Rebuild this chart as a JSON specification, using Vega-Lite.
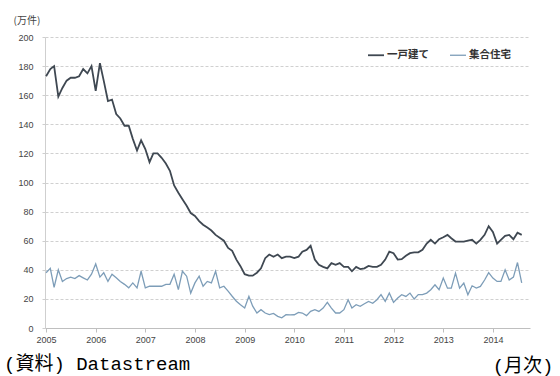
{
  "$schema": "https://vega.github.io/schema/vega-lite/v6.json",
  "width": 485,
  "height": 291,
  "autosize": {"type": "none"},
  "padding": {"left": 45, "top": 37, "right": 30, "bottom": 48},
  "background": "white",
  "title": {"text": "(資料) Datastream", "orient": "bottom", "anchor": "start", "frame": "group", "dx": -41, "dy": -20, "offset": 0, "fontSize": 19, "font": "Liberation Mono, Noto Sans CJK JP", "fontWeight": "normal", "color": "#000"},
  "data": {"values": [
    {"d":"2005-01-01","一戸建て":173,"集合住宅":38},{"d":"2005-02-01","一戸建て":178,"集合住宅":41},{"d":"2005-03-01","一戸建て":180,"集合住宅":28},{"d":"2005-04-01","一戸建て":159,"集合住宅":40},{"d":"2005-05-01","一戸建て":165,"集合住宅":32},{"d":"2005-06-01","一戸建て":170,"集合住宅":34},{"d":"2005-07-01","一戸建て":172,"集合住宅":35},{"d":"2005-08-01","一戸建て":172,"集合住宅":34},{"d":"2005-09-01","一戸建て":173,"集合住宅":36},{"d":"2005-10-01","一戸建て":178,"集合住宅":34.5},{"d":"2005-11-01","一戸建て":175,"集合住宅":33},{"d":"2005-12-01","一戸建て":180,"集合住宅":37},
    {"d":"2006-01-01","一戸建て":163,"集合住宅":44},{"d":"2006-02-01","一戸建て":182,"集合住宅":35},{"d":"2006-03-01","一戸建て":170,"集合住宅":38},{"d":"2006-04-01","一戸建て":156,"集合住宅":32},{"d":"2006-05-01","一戸建て":157,"集合住宅":37},{"d":"2006-06-01","一戸建て":147,"集合住宅":34.5},{"d":"2006-07-01","一戸建て":144,"集合住宅":32},{"d":"2006-08-01","一戸建て":139,"集合住宅":30},{"d":"2006-09-01","一戸建て":139,"集合住宅":27.6},{"d":"2006-10-01","一戸建て":130,"集合住宅":31},{"d":"2006-11-01","一戸建て":122,"集合住宅":27.6},{"d":"2006-12-01","一戸建て":129,"集合住宅":39},
    {"d":"2007-01-01","一戸建て":123,"集合住宅":27.6},{"d":"2007-02-01","一戸建て":114,"集合住宅":28.7},{"d":"2007-03-01","一戸建て":120,"集合住宅":28.7},{"d":"2007-04-01","一戸建て":120,"集合住宅":28.7},{"d":"2007-05-01","一戸建て":117,"集合住宅":28.7},{"d":"2007-06-01","一戸建て":113,"集合住宅":30},{"d":"2007-07-01","一戸建て":108,"集合住宅":30},{"d":"2007-08-01","一戸建て":98,"集合住宅":37},{"d":"2007-09-01","一戸建て":93,"集合住宅":26.4},{"d":"2007-10-01","一戸建て":88.5,"集合住宅":39},{"d":"2007-11-01","一戸建て":84,"集合住宅":35.6},{"d":"2007-12-01","一戸建て":79,"集合住宅":24},
    {"d":"2008-01-01","一戸建て":77,"集合住宅":31},{"d":"2008-02-01","一戸建て":73.5,"集合住宅":35.6},{"d":"2008-03-01","一戸建て":71,"集合住宅":28.7},{"d":"2008-04-01","一戸建て":69,"集合住宅":32},{"d":"2008-05-01","一戸建て":67,"集合住宅":31},{"d":"2008-06-01","一戸建て":64,"集合住宅":39},{"d":"2008-07-01","一戸建て":62,"集合住宅":27.6},{"d":"2008-08-01","一戸建て":60,"集合住宅":28.7},{"d":"2008-09-01","一戸建て":55,"集合住宅":25.3},{"d":"2008-10-01","一戸建て":53,"集合住宅":21.8},{"d":"2008-11-01","一戸建て":47,"集合住宅":18.4},{"d":"2008-12-01","一戸建て":42.5,"集合住宅":16},
    {"d":"2009-01-01","一戸建て":37,"集合住宅":13.8},{"d":"2009-02-01","一戸建て":36,"集合住宅":21.8},{"d":"2009-03-01","一戸建て":36,"集合住宅":15},{"d":"2009-04-01","一戸建て":38,"集合住宅":10.3},{"d":"2009-05-01","一戸建て":41,"集合住宅":12.6},{"d":"2009-06-01","一戸建て":48,"集合住宅":10.3},{"d":"2009-07-01","一戸建て":50.5,"集合住宅":9.2},{"d":"2009-08-01","一戸建て":49,"集合住宅":10},{"d":"2009-09-01","一戸建て":50.5,"集合住宅":8},{"d":"2009-10-01","一戸建て":48,"集合住宅":7},{"d":"2009-11-01","一戸建て":49,"集合住宅":9.2},{"d":"2009-12-01","一戸建て":49,"集合住宅":9},
    {"d":"2010-01-01","一戸建て":48,"集合住宅":9.1},{"d":"2010-02-01","一戸建て":49,"集合住宅":10.7},{"d":"2010-03-01","一戸建て":52.5,"集合住宅":10.3},{"d":"2010-04-01","一戸建て":53.7,"集合住宅":8.5},{"d":"2010-05-01","一戸建て":56.5,"集合住宅":11.4},{"d":"2010-06-01","一戸建て":47,"集合住宅":12.6},{"d":"2010-07-01","一戸建て":43.4,"集合住宅":11.4},{"d":"2010-08-01","一戸建て":42,"集合住宅":13.7},{"d":"2010-09-01","一戸建て":41,"集合住宅":17.6},{"d":"2010-10-01","一戸建て":44.6,"集合住宅":13.7},{"d":"2010-11-01","一戸建て":43.4,"集合住宅":10.3},{"d":"2010-12-01","一戸建て":44.6,"集合住宅":10.3},
    {"d":"2011-01-01","一戸建て":42,"集合住宅":12.6},{"d":"2011-02-01","一戸建て":42,"集合住宅":19.4},{"d":"2011-03-01","一戸建て":39,"集合住宅":13.7},{"d":"2011-04-01","一戸建て":42,"集合住宅":16},{"d":"2011-05-01","一戸建て":40.5,"集合住宅":14.9},{"d":"2011-06-01","一戸建て":41,"集合住宅":16.7},{"d":"2011-07-01","一戸建て":42.7,"集合住宅":18.3},{"d":"2011-08-01","一戸建て":42,"集合住宅":17},{"d":"2011-09-01","一戸建て":42,"集合住宅":19.4},{"d":"2011-10-01","一戸建て":43.4,"集合住宅":22.9},{"d":"2011-11-01","一戸建て":47,"集合住宅":18.3},{"d":"2011-12-01","一戸建て":52.5,"集合住宅":24},
    {"d":"2012-01-01","一戸建て":51.4,"集合住宅":17.6},{"d":"2012-02-01","一戸建て":47,"集合住宅":20.6},{"d":"2012-03-01","一戸建て":47.3,"集合住宅":22.9},{"d":"2012-04-01","一戸建て":49.6,"集合住宅":21.7},{"d":"2012-05-01","一戸建て":51.4,"集合住宅":24},{"d":"2012-06-01","一戸建て":52,"集合住宅":19.9},{"d":"2012-07-01","一戸建て":52,"集合住宅":22.9},{"d":"2012-08-01","一戸建て":53.7,"集合住宅":22.9},{"d":"2012-09-01","一戸建て":58,"集合住宅":24},{"d":"2012-10-01","一戸建て":60.6,"集合住宅":26.3},{"d":"2012-11-01","一戸建て":58,"集合住宅":29.7},{"d":"2012-12-01","一戸建て":61,"集合住宅":26.3},
    {"d":"2013-01-01","一戸建て":62.4,"集合住宅":34.3},{"d":"2013-02-01","一戸建て":64,"集合住宅":27.4},{"d":"2013-03-01","一戸建て":61.7,"集合住宅":27.4},{"d":"2013-04-01","一戸建て":59.4,"集合住宅":37.7},{"d":"2013-05-01","一戸建て":59.4,"集合住宅":27.4},{"d":"2013-06-01","一戸建て":59.4,"集合住宅":30.9},{"d":"2013-07-01","一戸建て":60,"集合住宅":22.9},{"d":"2013-08-01","一戸建て":60.6,"集合住宅":29},{"d":"2013-09-01","一戸建て":58,"集合住宅":27.4},{"d":"2013-10-01","一戸建て":60.6,"集合住宅":28.6},{"d":"2013-11-01","一戸建て":64,"集合住宅":33},{"d":"2013-12-01","一戸建て":70,"集合住宅":38},
    {"d":"2014-01-01","一戸建て":66,"集合住宅":34.3},{"d":"2014-02-01","一戸建て":58,"集合住宅":32},{"d":"2014-03-01","一戸建て":60.6,"集合住宅":32},{"d":"2014-04-01","一戸建て":63.3,"集合住宅":40},{"d":"2014-05-01","一戸建て":64,"集合住宅":33},{"d":"2014-06-01","一戸建て":61,"集合住宅":35},{"d":"2014-07-01","一戸建て":65.5,"集合住宅":45},{"d":"2014-08-01","一戸建て":64,"集合住宅":31}
  ]},
  "transform": [{"fold": ["一戸建て", "集合住宅"], "as": ["series", "value"]}],
  "mark": {"type": "line", "interpolate": "linear"},
  "encoding": {
    "x": {
      "field": "d", "type": "temporal",
      "scale": {"type": "utc", "domain": [{"year": 2004, "month": 12, "date": 24, "utc": true}, {"year": 2014, "month": 10, "date": 1, "utc": true}]},
      "axis": {
        "title": "(月次)", "format": "%Y", "tickCount": {"interval": "year", "step": 1},
        "grid": false, "domainColor": "#bfbfbf", "tickColor": "#bfbfbf", "tickSize": 4,
        "labelFontSize": 9, "labelColor": "#444", "labelFont": "Liberation Sans", "labelPadding": 3, "labelFlush": false,
        "titleFont": "Liberation Mono, Noto Sans CJK JP", "titleFontSize": 19, "titleFontWeight": "normal", "titleColor": "#000",
        "titleAlign": "right", "titleAnchor": "end", "titleX": 508, "titleY": 37, "titleBaseline": "middle"
      }
    },
    "y": {
      "field": "value", "type": "quantitative",
      "scale": {"domain": [0, 200], "nice": false},
      "axis": {
        "title": "(万件)", "titleAngle": 0, "titleAlign": "left", "titleX": -32, "titleY": -17, "titleBaseline": "middle",
        "titleFontSize": 10, "titleFontWeight": "normal", "titleFont": "Noto Sans CJK JP", "titleColor": "#444",
        "values": [0, 20, 40, 60, 80, 100, 120, 140, 160, 180, 200],
        "grid": true, "gridDash": [3, 2], "gridColor": "#d0d0d0",
        "domainColor": "#cfcfcf", "tickColor": "#cfcfcf", "tickSize": 3,
        "labelFontSize": 9, "labelColor": "#444", "labelFont": "Liberation Sans", "labelPadding": 9
      }
    },
    "color": {
      "field": "series", "type": "nominal",
      "scale": {"domain": ["一戸建て", "集合住宅"], "range": ["#3f4852", "#7d9db8"]},
      "legend": {
        "title": null, "orient": "none", "legendX": 322, "legendY": 9, "direction": "horizontal",
        "symbolType": "stroke", "symbolStrokeWidth": 2, "symbolSize": 256,
        "labelFontSize": 10.5, "labelFont": "Noto Sans CJK JP", "labelFontWeight": "bold", "labelColor": "#333",
        "columnPadding": 18, "labelOffset": 2
      }
    },
    "strokeWidth": {
      "field": "series", "type": "nominal",
      "scale": {"domain": ["一戸建て", "集合住宅"], "range": [1.8, 1.3]},
      "legend": null
    }
  },
  "config": {"view": {"stroke": null}}
}
